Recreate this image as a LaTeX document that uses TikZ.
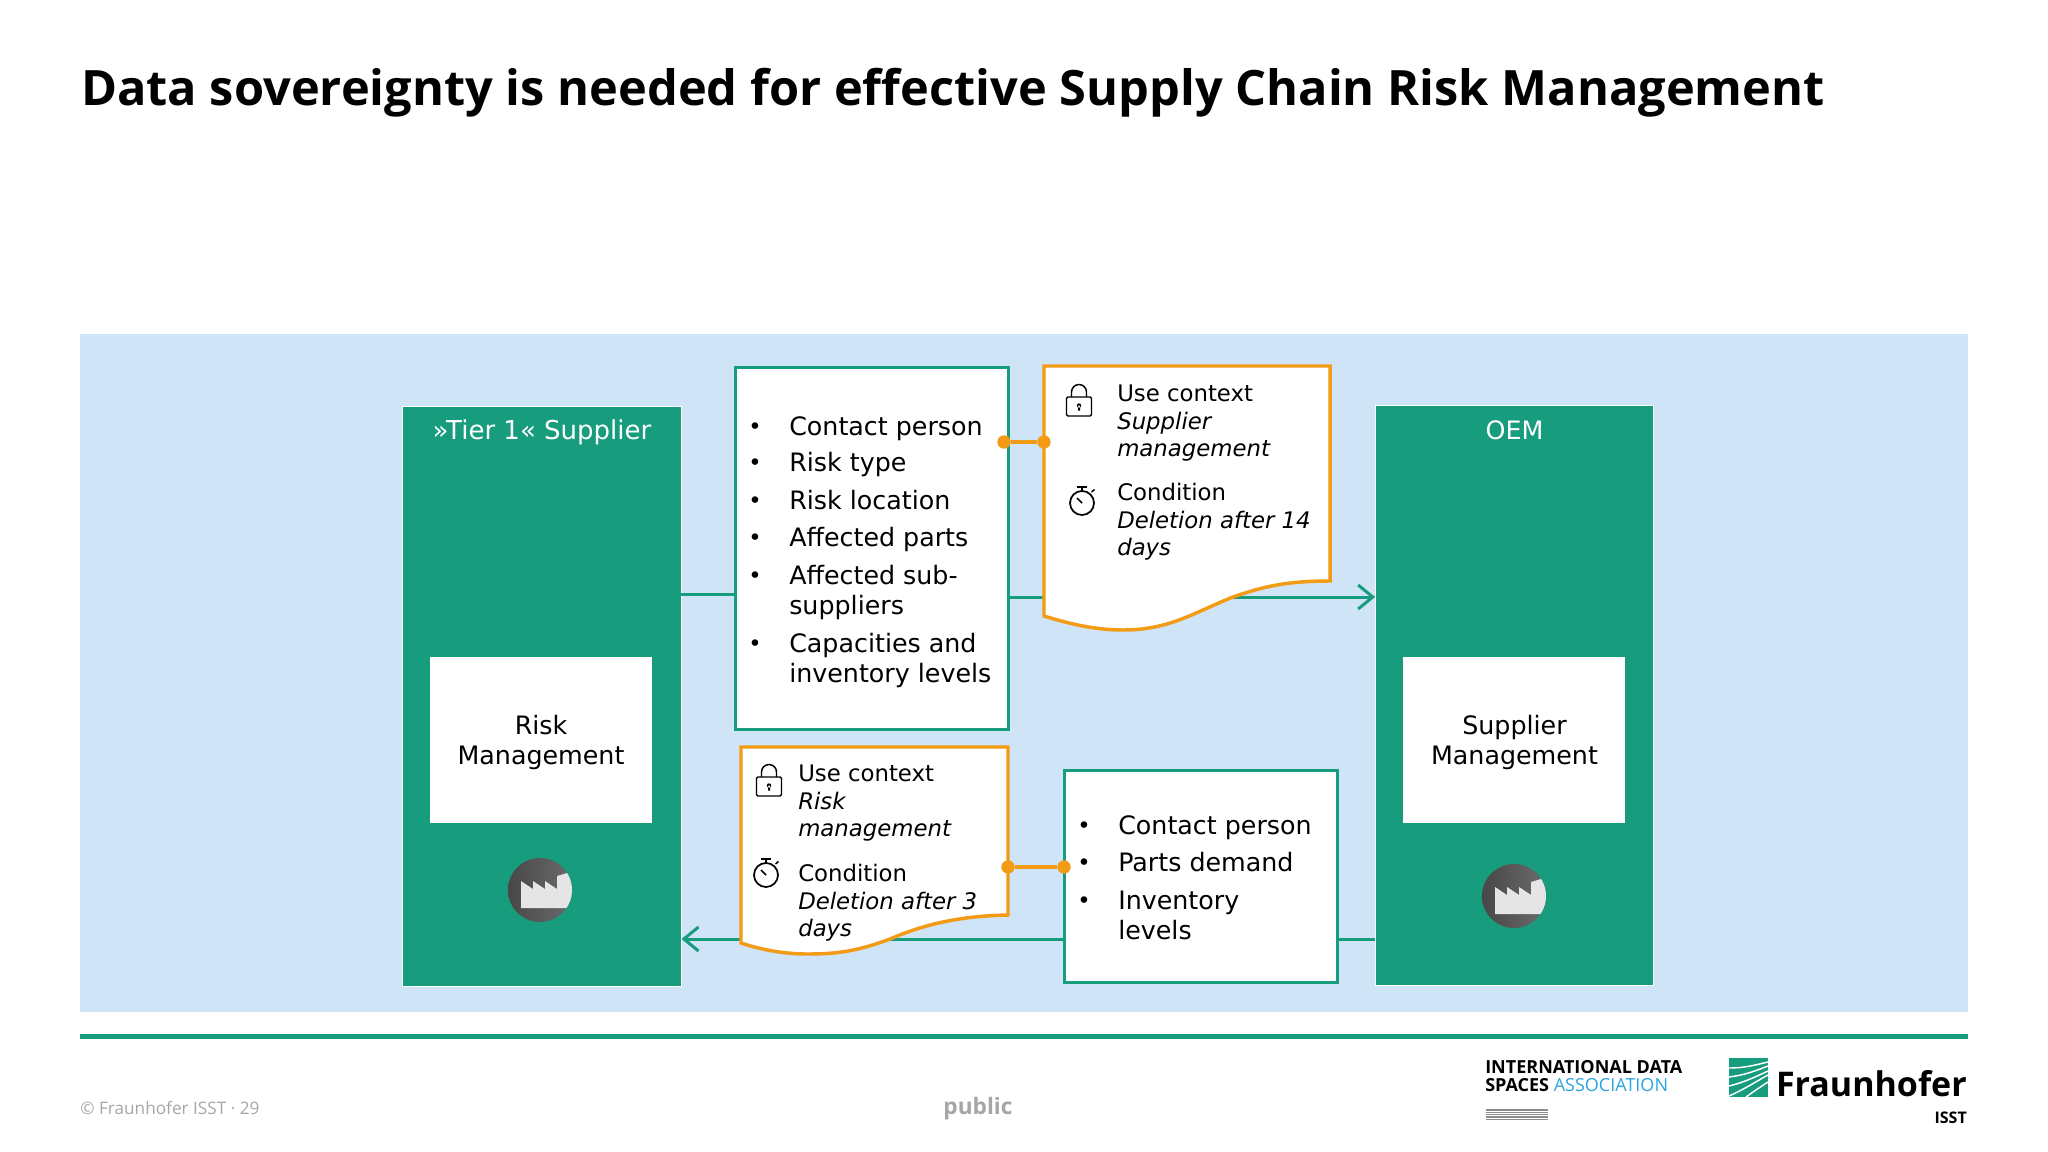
\documentclass[tikz,border=0pt]{standalone}
\usepackage{fontspec}
\usepackage{tikz}
\usetikzlibrary{arrows.meta}
\setmainfont{DejaVu Sans}
\newfontfamily\headfont{Open Sans}
\definecolor{fhgreen}{HTML}{179C7D}
\definecolor{fhorange}{HTML}{F39B14}
\definecolor{panelblue}{HTML}{CFE5F7}
\definecolor{footgray}{HTML}{A6A6A6}
\definecolor{idsablue}{HTML}{2AA4DF}
\tikzset{
  greenbox/.style={draw=white,line width=0.75pt,fill=fhgreen,text=white,inner sep=0pt,outer sep=0pt},
  whitebox/.style={fill=white,inner sep=0pt,outer sep=0pt},
  boxtext/.style={inner sep=0pt,align=center,font=\fontsize{19}{22.5}\selectfont},
  listbox/.style={draw=fhgreen,line width=2.25pt,fill=white,inner sep=0pt,outer sep=0pt},
  flowline/.style={draw=fhgreen,line width=2.25pt},
  tagshape/.style={draw=fhorange,line width=2.6pt,fill=white,line join=miter},
  orangedot/.style={circle,fill=fhorange,inner sep=0pt,minimum size=10pt},
  itemtext/.style={anchor=north west,inner sep=0pt,align=left,font=\fontsize{19}{22.5}\selectfont},
  tagtext/.style={anchor=north west,inner sep=0pt,align=left,font=\fontsize{17.1}{20.6}\selectfont},
  icon/.style={draw=black,line width=1.1pt,line join=round},
  bulletmark/.style={inner sep=0pt,font=\fontsize{17}{17}\selectfont},
}
\newcommand{\lockicon}[2]{%
  \draw[icon,rounded corners=1pt] (#1-12.5,#2-7) rectangle (#1+12.5,#2+12);
  \draw[icon] (#1-7.5,#2-7) -- (#1-7.5,#2-12) arc (180:360:7.5) -- (#1+7.5,#2-7);
  \fill (#1,#2+1.5) circle (2.2) (#1-1,#2+1.5) rectangle (#1+1,#2+6.5);
}
\newcommand{\watchicon}[2]{%
  \draw[icon,line width=1.3pt] (#1,#2) circle (12);
  \draw[icon] (#1,#2-12) -- (#1,#2-16) (#1-5,#2-16) -- (#1+5,#2-16);
  \draw[icon] (#1+9.5,#2-11) -- (#1+12.5,#2-13.5);
  \draw[icon,line width=1.3pt] (#1,#2) -- (#1-5,#2-5);
}
\newcommand{\factoryicon}[2]{%
  \begin{scope}
    \clip (#1,#2) circle (32);
    \shade[left color=black!72,right color=black!58] (#1-32,#2-32) rectangle (#1+32,#2+32);
    \fill[black!10] (#1-19,#2+18) -- (#1-19,#2-9) -- (#1-7,#2-1) -- (#1-7,#2-9) -- (#1+5,#2-1) -- (#1+5,#2-9) -- (#1+17,#2-1) -- (#1+17,#2-14) -- (#1+27,#2-17) -- (#1+40,#2-17) -- (#1+40,#2+18) -- cycle;
  \end{scope}
}
\begin{document}
\begin{tikzpicture}[x=0.75pt,y=0.75pt,yscale=-1]
\useasboundingbox (0,0) rectangle (2048,1152);

% Title
\node[anchor=base west,inner sep=0pt,font=\headfont\bfseries\fontsize{36.55}{40}\selectfont] (title) at (81,105.5) {Data sovereignty is needed for effective Supply Chain Risk Management};

%Shape: Panel
\fill[panelblue] (80,334) rectangle (1968,1012);

% Helper rows for the flows
\coordinate (flowin) at (0,594);
\coordinate (flowtop) at (0,597);
\coordinate (flowlow) at (0,939);

% Main boxes
\node[greenbox,minimum width=209.5pt,minimum height=435pt] (tier) at (541.8,696) {};
\node[greenbox,minimum width=209pt,minimum height=435pt] (oem) at (1514.5,695) {};
\node[whitebox,minimum width=166.5pt,minimum height=124.5pt] (riskmgmt) at (541,740) {};
\node[whitebox,minimum width=166.5pt,minimum height=124.5pt] (suppmgmt) at (1514,740) {};
\node[listbox,minimum width=204.75pt,minimum height=271.5pt] (risklist) at (871.5,548) {};
\node[listbox,minimum width=204.75pt,minimum height=159pt] (demandlist) at (1200.5,876) {};
\node[boxtext] (riskmgmttext) at (541,743) {Risk\\Management};
\node[boxtext] (suppmgmttext) at (1514.5,743) {Supplier\\Management};
\node[text=white,inner sep=0pt,font=\fontsize{19.5}{22}\selectfont] (tierlabel) at (542,432) {»Tier 1« Supplier};
\node[text=white,inner sep=0pt,font=\fontsize{19}{22}\selectfont] (oemlabel) at (1514.5,430) {OEM};

% Flows
\draw[flowline] (tier.east |- flowin) -- (risklist.west |- flowin);
\draw[flowline,-{Straight Barb[length=11pt,width=18pt,line width=2.25pt]}] (risklist.east |- flowtop) -- (oem.west |- flowtop);
\draw[flowline,-{Straight Barb[length=11pt,width=18pt,line width=2.25pt]}] (demandlist.west |- flowlow) -- (tier.east |- flowlow);
\draw[flowline] (oem.west |- flowlow) -- (demandlist.east |- flowlow);

%Shape: Upper tag
\draw[tagshape] (1044,366) -- (1330,366) -- (1330,581) .. controls (1285,581) and (1262,587) .. (1233,597) .. controls (1195,612) and (1170,630) .. (1123,630) .. controls (1095,630) and (1070,624) .. (1044,616) -- cycle;
%Shape: Lower tag
\draw[tagshape] (741,747) -- (1008,747) -- (1008,915) .. controls (960,916) and (925,924) .. (890,939) .. controls (855,952) and (835,954) .. (807,954) .. controls (785,954) and (762,950) .. (741,943) -- cycle;

% Tag links
\node[orangedot] (dota) at (1004,442) {};
\node[orangedot] (dotb) at (1044,442) {};
\draw[draw=fhorange,line width=2.6pt] (dota) -- (dotb);
\node[orangedot] (dotc) at (1008,867) {};
\node[orangedot] (dotd) at (1064,867) {};
\draw[draw=fhorange,line width=2.6pt] (dotc) -- (dotd);

% List texts
\foreach \yy/\txt [count=\ii] in {416/Contact person,452/Risk type,490/Risk location,527/Affected parts,565/{Affected sub-\\suppliers},632.5/{Capacities and\\inventory levels}}{
  \node[itemtext] (riskitem\ii) at (789,\yy) {\txt};
}
\foreach \yy [count=\ii] in {429,465,503,540,578,646}{
  \node[bulletmark] (riskdot\ii) at (755,\yy) {•};
}
\foreach \yy/\txt [count=\ii] in {815.5/Contact person,852/Parts demand,891/{Inventory\\levels}}{
  \node[itemtext] (demanditem\ii) at (1118,\yy) {\txt};
}
\foreach \yy [count=\ii] in {828,865,903}{
  \node[bulletmark] (demanddot\ii) at (1084,\yy) {•};
}

% Tag texts
\node[tagtext] (usetop) at (1117,385) {Use context\\\itshape Supplier\\\itshape management};
\node[tagtext] (condtop) at (1117,483) {Condition\\\itshape Deletion after 14\\\itshape days};
\node[tagtext] (uselow) at (798,765) {Use context\\\itshape Risk\\\itshape management};
\node[tagtext] (condlow) at (798,864) {Condition\\\itshape Deletion after 3\\\itshape days};

% Icons
\lockicon{1079}{404}
\watchicon{1082}{503}
\lockicon{769}{784}
\watchicon{766}{875}
\factoryicon{540}{890}
\factoryicon{1514}{896}

% Footer
\fill[fhgreen] (80,1033.5) rectangle (1968,1038.5);
\node[anchor=base west,inner sep=0pt,text=footgray,font=\headfont\fontsize{12.9}{15}\selectfont] (copyright) at (80,1114) {© Fraunhofer ISST · 29};
\node[anchor=base,inner sep=0pt,text=footgray,font=\headfont\bfseries\fontsize{17}{18}\selectfont] (public) at (978,1114) {public};
\node[anchor=base west,inner sep=0pt,font=\headfont\bfseries\fontsize{13.5}{15}\selectfont] (idsaone) at (1485,1073) {INTERNATIONAL DATA};
\node[anchor=base west,inner sep=0pt,font=\headfont\bfseries\fontsize{13.5}{15}\selectfont] (idsatwo) at (1485,1091) {SPACES {\mdseries\color{idsablue}ASSOCIATION}};
\foreach \yy in {1110,1112.3,1114.6,1116.9,1119.2}{
  \draw[black!45,line width=1pt] (1486,\yy) -- (1548,\yy);
}
\fill[fhgreen] (1729,1058) rectangle (1768,1097);
\begin{scope}
  \clip (1729,1058) rectangle (1768,1097);
  \draw[white,line width=1.1pt] (1729,1068) .. controls (1745,1068) and (1755,1065) .. (1768,1062);
  \draw[white,line width=1.1pt] (1729,1077) .. controls (1745,1075) and (1755,1071) .. (1768,1066);
  \draw[white,line width=1.1pt] (1729,1086) .. controls (1745,1082) and (1755,1077) .. (1768,1071);
  \draw[white,line width=1.1pt] (1729,1096) .. controls (1745,1089) and (1755,1082) .. (1768,1075);
  \draw[white,line width=1.1pt] (1746,1097) .. controls (1753,1092) and (1760,1087) .. (1768,1082);
\end{scope}
\node[anchor=base east,inner sep=0pt,font=\headfont\bfseries\fontsize{25.5}{30}\selectfont] (fraunhofer) at (1967,1096) {Fraunhofer};
\node[anchor=base east,inner sep=0pt,font=\headfont\bfseries\fontsize{12}{14}\selectfont] (isst) at (1967,1123) {ISST};
\end{tikzpicture}
\end{document}
